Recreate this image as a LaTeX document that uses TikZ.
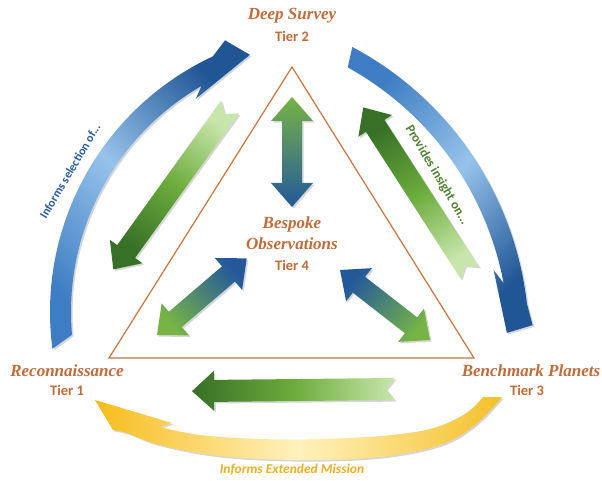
\documentclass[tikz,border=0pt]{standalone}
\usepackage{fontspec}
\setmainfont{Liberation Serif}
\newfontfamily\carl{Carlito}
\usetikzlibrary{calc}
\definecolor{tier}{RGB}{192,108,58}
\definecolor{tri}{RGB}{200,118,62}
\definecolor{bdark}{RGB}{33,86,150}
\definecolor{bmid}{RGB}{62,125,195}
\definecolor{blight}{RGB}{150,195,235}
\definecolor{gdark}{RGB}{55,112,38}
\definecolor{gmid}{RGB}{108,172,60}
\definecolor{glight}{RGB}{200,230,172}
\definecolor{dgreen}{RGB}{118,180,70}
\definecolor{dblue}{RGB}{35,88,155}
\definecolor{ydark}{RGB}{247,188,28}
\definecolor{ylight}{RGB}{255,242,190}
\definecolor{ytail}{RGB}{245,192,40}
\definecolor{txtblue}{RGB}{42,92,158}
\definecolor{txtgreen}{RGB}{78,128,48}
\definecolor{txtgold}{RGB}{236,176,36}
\tikzset{
  tierlab/.style={text=tier,font=\fontsize{17}{20}\selectfont\bfseries\itshape,inner sep=0pt},
  tiernum/.style={text=tier,font=\carl\fontsize{14.5}{17}\selectfont\bfseries,inner sep=0pt},
  arclab/.style={font=\carl\fontsize{12}{14}\selectfont\bfseries,inner sep=0pt},
  shad/.style={fill=black,opacity=0.16}
}
% #1 tail, #2 visual direction angle, #3 length
\newcommand\garrow[3]{%
  \begin{scope}[shift={#1},shift={(1.6,1.6)},rotate=#2]
    \fill[shad]
      (0,-11) -- (#3-22,-11) -- (#3-22,-20) -- (#3,0) -- (#3-22,20) -- (#3-22,11) -- (0,11) -- (9,0) -- cycle;
  \end{scope}
  \begin{scope}[shift={#1},rotate=#2]
    \shade[top color=gdark,bottom color=glight,middle color=gmid,shading angle=#2-90]
      (0,-11) -- (#3-22,-11) -- (#3-22,-20) -- (#3,0) -- (#3-22,20) -- (#3-22,11) -- (0,11) -- (9,0) -- cycle;
  \end{scope}}
% #1 green end, #2 visual direction angle towards blue end, #3 length
\newcommand\darrow[3]{%
  \begin{scope}[shift={#1},shift={(1.6,1.6)},rotate=#2]
    \fill[shad]
      (0,0) -- (24,-21) -- (24,-10) -- (#3-24,-10) -- (#3-24,-21) -- (#3,0) -- (#3-24,21) -- (#3-24,10) -- (24,10) -- (24,21) -- cycle;
  \end{scope}
  \begin{scope}[shift={#1},rotate=#2]
    \shade[top color=dblue,bottom color=dgreen,shading angle=#2-90]
      (0,0) -- (24,-21) -- (24,-10) -- (#3-24,-10) -- (#3-24,-21) -- (#3,0) -- (#3-24,21) -- (#3-24,10) -- (24,10) -- (24,21) -- cycle;
  \end{scope}}
\begin{document}
\begin{tikzpicture}[x=1pt,y=-1pt]
\useasboundingbox[fill=white] (0,0) rectangle (602,481);
% triangle
\coordinate (apex) at (292,67);
\coordinate (bl) at (109,358);
\coordinate (br) at (474,358);
\draw[tri,line width=1.2pt,line join=miter] (apex) -- (br) -- (bl) -- cycle;

% left blue arc
\begin{scope}[shift={(333.6,313.6)}]
  \fill[shad]
    (175:261) arc[start angle=175,end angle=240,radius=261] -- (237.4:253) -- (252.3:270)
    -- (248.5:292) -- (245:282) arc[start angle=245,end angle=172.5,radius=282] -- cycle;
\end{scope}
\begin{scope}[shift={(332,312)}]
  \shade[top color=bdark,bottom color=bmid,middle color=blight,shading angle=-45]
    (175:261) arc[start angle=175,end angle=240,radius=261] -- (237.4:253) -- (252.3:270)
    -- (248.5:292) -- (245:282) arc[start angle=245,end angle=172.5,radius=282] -- cycle;
\end{scope}
% right blue arc
\begin{scope}[shift={(197.6,342.6)}]
  \fill[shad]
    (-61:313) arc[start angle=-61,end angle=-10.6,radius=313] -- (-13.4:306) -- (-1.5:311)
    -- (-2.7:337) -- (-6.5:333) arc[start angle=-6.5,end angle=-62,radius=333] -- cycle;
\end{scope}
\begin{scope}[shift={(196,341)}]
  \shade[top color=bmid,bottom color=bdark,middle color=blight,shading angle=45]
    (-61:313) arc[start angle=-61,end angle=-10.6,radius=313] -- (-13.4:306) -- (-1.5:311)
    -- (-2.7:337) -- (-6.5:333) arc[start angle=-6.5,end angle=-62,radius=333] -- cycle;
\end{scope}
% yellow arc
\begin{scope}[shift={(1.6,1.6)}]
\fill[shad]
  (95,400) -- (172,423) -- (160,427)
  -- plot[smooth,tension=0.6] coordinates {(160,427) (200,435) (260,439) (320,439) (380,436) (430,429) (465,414) (483,397)}
  -- (502,397)
  -- plot[smooth,tension=0.6] coordinates {(502,397) (475,425) (440,445) (380,457) (300,460) (220,456) (160,445) (127,433) (113,430)}
  -- cycle;
\end{scope}
\shade[left color=ydark,right color=ytail,middle color=ylight]
  (95,400) -- (172,423) -- (160,427)
  -- plot[smooth,tension=0.6] coordinates {(160,427) (200,435) (260,439) (320,439) (380,436) (430,429) (465,414) (483,397)}
  -- (502,397)
  -- plot[smooth,tension=0.6] coordinates {(502,397) (475,425) (440,445) (380,457) (300,460) (220,456) (160,445) (127,433) (113,430)}
  -- cycle;

% green single arrows
\garrow{(230,107)}{-125.7}{200}
\garrow{(470,273)}{122.8}{197}
\garrow{(395,389)}{-179.4}{203}

% double arrows
\darrow{(292,97)}{-90}{110}
\darrow{(157,335)}{40.5}{118}
\darrow{(430,340)}{142.1}{114}

% labels
\node[tierlab] (ds) at (292,16) {Deep Survey};
\node[tiernum] (t2) at (292,36) {Tier 2};
\node[tierlab] (rc) at (67,371) {Reconnaissance};
\node[tiernum] (t1) at (67,390) {Tier 1};
\node[tierlab] (bp) at (531,371) {Benchmark Planets};
\node[tiernum] (t3) at (527,390) {Tier 3};
\node[tierlab] (bs) at (292,224) {Bespoke};
\node[tierlab] (ob) at (292,244) {Observations};
\node[tiernum] (t4) at (292,265) {Tier 4};
\node[arclab,text=txtblue,rotate=59.5] (isel) at (70,171) {Informs selection of...};
\node[arclab,text=txtgreen,rotate=-59.5,font=\carl\fontsize{13}{15}\selectfont\bfseries] (pins) at (437,175) {Provides insight on...};
\node[text=txtgold,font=\carl\fontsize{13.5}{16}\selectfont\bfseries\itshape,inner sep=0pt] (iem) at (292,470) {Informs Extended Mission};
\end{tikzpicture}
\end{document}
